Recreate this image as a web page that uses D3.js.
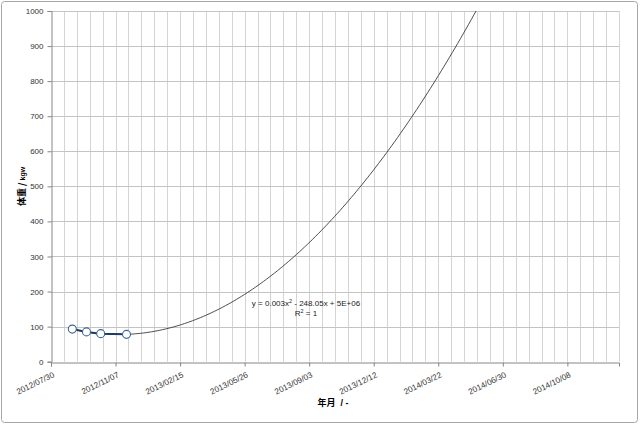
<!DOCTYPE html>
<html><head><meta charset="utf-8">
<script src="https://cdn.jsdelivr.net/npm/d3@7"></script>
<style>
html,body{margin:0;padding:0;background:#fff;}
svg{display:block;}
text{font-family:"Liberation Sans",Arial,sans-serif;}
</style></head>
<body>
<script>
// ---- data ----
const dates = ["2012/09/01", "2012/09/23", "2012/10/15", "2012/11/24"];
const weights = [93.0, 85.0, 80.0, 78.0];
const xTickLabels = ["2012/07/30","2012/11/07","2013/02/15","2013/05/26","2013/09/03","2013/12/12","2014/03/22","2014/06/30","2014/10/08"];
const xDomain = ["2012/07/30", "2014/12/27"];
const yTicks = [0,100,200,300,400,500,600,700,800,900,1000];
// polynomial (order 2) trendline, vertex form
const trendA = 0.003011;            // per day^2
const trendVertex = ["2012/11/12", 77.5];
const trendRange = ["2012/09/01", "2014/12/27"];
const equationLines = ["y = 0.003x", "2", " - 248.05x + 5E+06"];
const r2Label = ["R", "2", " = 1"];
const yTitle = ["体重 / ", "kgw"];
const xTitle = ["年月", "  / -"];

const W = 640, H = 424;
const m = {left: 51, right: 619, top: 11, bottom: 361.7};
const parse = d3.utcParse("%Y/%m/%d");
const DAY = 864e5;

const svg = d3.select("body").append("svg").attr("width", W).attr("height", H);

// outer frame
svg.append("rect").attr("x", 1.5).attr("y", 1.5).attr("width", 636).attr("height", 421)
  .attr("rx", 3).attr("fill", "#fff").attr("stroke", "#a6a6a6").attr("stroke-width", 1);

const x = d3.scaleUtc().domain(xDomain.map(parse)).range([m.left, m.right]);
const y = d3.scaleLinear().domain([0, 1000]).range([m.bottom, m.top]);

// minor vertical gridlines every 20 days
const start = parse(xDomain[0]), end = parse(xDomain[1]);
const gridDays = d3.utcDay.range(start, new Date(+end + DAY), 1).filter(d => Math.round((d - start)/DAY) % 20 === 0);
svg.append("g").selectAll("line").data(gridDays.filter(d => +d !== +start)).join("line")
  .attr("x1", d => Math.round(x(d)) + 0.5).attr("x2", d => Math.round(x(d)) + 0.5)
  .attr("y1", m.top).attr("y2", m.bottom)
  .attr("stroke", "#d4d4d4").attr("stroke-width", 1);

// horizontal gridlines
svg.append("g").selectAll("line").data(yTicks.filter(v => v > 0)).join("line")
  .attr("x1", m.left).attr("x2", m.right)
  .attr("y1", d => Math.round(y(d)) + 0.5).attr("y2", d => Math.round(y(d)) + 0.5)
  .attr("stroke", "#c4c4c4").attr("stroke-width", 1);

// y axis
const yAxis = d3.axisLeft(y).tickValues(yTicks).tickSize(4).tickPadding(4).tickFormat(d3.format("d"));
const gy = svg.append("g").attr("transform", `translate(${Math.round(m.left)+0.5},0)`).call(yAxis);
gy.select(".domain").attr("stroke", "#868686");
gy.selectAll(".tick line").attr("stroke", "#868686");
gy.selectAll(".tick text").attr("font-size", 8).attr("fill", "#333").attr("font-family", "Liberation Sans, Arial, sans-serif");

// x axis
const xAxis = d3.axisBottom(x).tickValues(xTickLabels.map(parse)).tickSize(4).tickFormat(() => "");
const gx = svg.append("g").attr("transform", `translate(0,${Math.round(m.bottom)+0.5})`).call(xAxis);
gx.select(".domain").attr("stroke", "#868686");
gx.selectAll(".tick line").attr("stroke", "#868686");

svg.append("g").selectAll("text").data(xTickLabels).join("text")
  .attr("transform", d => `translate(${x(parse(d)) + 4},${m.bottom + 15}) rotate(-26)`)
  .attr("text-anchor", "end")
  .attr("font-size", 8.2).attr("fill", "#333")
  .text(d => d);

// clip
svg.append("clipPath").attr("id", "plotclip").append("rect")
  .attr("x", m.left).attr("y", m.top).attr("width", m.right - m.left).attr("height", m.bottom - m.top);

// trendline
const vDate = parse(trendVertex[0]);
const trendFn = d => trendVertex[1] + trendA * Math.pow((d - vDate)/DAY, 2);
const tStart = parse(trendRange[0]), tEnd = parse(trendRange[1]);
const tPts = d3.range(0, 201).map(i => new Date(+tStart + (tEnd - tStart) * i / 200));
svg.append("path").attr("clip-path", "url(#plotclip)")
  .datum(tPts)
  .attr("d", d3.line().x(d => x(d)).y(d => y(trendFn(d))))
  .attr("fill", "none").attr("stroke", "#3a3a3a").attr("stroke-width", 0.9);

// data series
const pts = dates.map((d, i) => ({d: parse(d), v: weights[i]}));
svg.append("path").datum(pts)
  .attr("d", d3.line().x(p => x(p.d)).y(p => y(p.v)))
  .attr("fill", "none").attr("stroke", "#1f3a60").attr("stroke-width", 2);
svg.append("g").selectAll("circle").data(pts).join("circle")
  .attr("cx", p => x(p.d)).attr("cy", p => y(p.v)).attr("r", 4)
  .attr("fill", "#fff").attr("stroke", "#3c6596").attr("stroke-width", 1.1);

// equation label
const eq = svg.append("text").attr("x", 306).attr("y", 306).attr("text-anchor", "middle")
  .attr("font-size", 8).attr("fill", "#222");
eq.append("tspan").text(equationLines[0]);
eq.append("tspan").attr("dy", -3).attr("font-size", 5.5).text(equationLines[1]);
eq.append("tspan").attr("dy", 3).text(equationLines[2]);
const r2 = svg.append("text").attr("x", 306).attr("y", 316).attr("text-anchor", "middle")
  .attr("font-size", 8).attr("fill", "#222");
r2.append("tspan").text(r2Label[0]);
r2.append("tspan").attr("dy", -3).attr("font-size", 5.5).text(r2Label[1]);
r2.append("tspan").attr("dy", 3).text(r2Label[2]);

// axis titles
const yt = svg.append("text").attr("transform", `translate(24.5,${(m.top + m.bottom)/2}) rotate(-90)`)
  .attr("text-anchor", "middle").attr("fill", "#000");
yt.append("tspan").attr("font-size", 9).attr("font-weight", "bold")
  .attr("font-family", "Noto Sans CJK JP, sans-serif").text(yTitle[0]);
yt.append("tspan").attr("font-size", 7).attr("font-weight", "bold").text(yTitle[1]);

const xt = svg.append("text").attr("x", 333).attr("y", 406).attr("text-anchor", "middle").attr("fill", "#000");
xt.append("tspan").attr("font-size", 9).attr("font-weight", "bold")
  .attr("font-family", "Noto Sans CJK JP, sans-serif").text(xTitle[0]);
xt.append("tspan").attr("font-size", 9).attr("font-weight", "bold").attr("xml:space", "preserve").text(xTitle[1]);
</script>
</body></html>
